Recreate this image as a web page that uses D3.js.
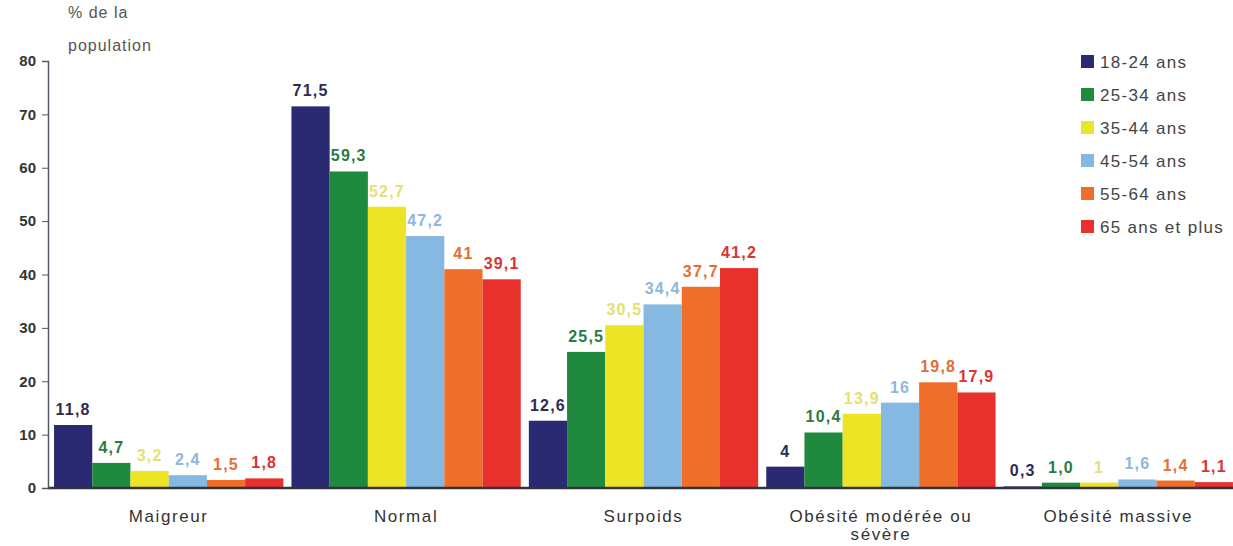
<!DOCTYPE html>
<html>
<head>
<meta charset="utf-8">
<script src="https://cdn.jsdelivr.net/npm/d3@7"></script>
<style>
  html, body { margin: 0; padding: 0; background: #fff; }
  svg { display: block; font-family: "Liberation Sans", Arial, sans-serif; }
</style>
</head>
<body>
<svg id="chart" width="1233" height="546"></svg>
<script>
// Corpulence categories (x groups)
const categories = ["Maigreur", "Normal", "Surpoids", "Obésité modérée ou sévère", "Obésité massive"];
const categoryLines = [["Maigreur"], ["Normal"], ["Surpoids"], ["Obésité modérée ou", "sévère"], ["Obésité massive"]];

// Age groups (series)
const ageGroups = ["18-24 ans", "25-34 ans", "35-44 ans", "45-54 ans", "55-64 ans", "65 ans et plus"];

// % de la population, per age group, in category order
const s18_24 = [11.8, 71.5, 12.6, 4, 0.3];
const s25_34 = [4.7, 59.3, 25.5, 10.4, 1.0];
const s35_44 = [3.2, 52.7, 30.5, 13.9, 1];
const s45_54 = [2.4, 47.2, 34.4, 16, 1.6];
const s55_64 = [1.5, 41, 37.7, 19.8, 1.4];
const s65plus = [1.8, 39.1, 41.2, 17.9, 1.1];
const seriesValues = [s18_24, s25_34, s35_44, s45_54, s55_64, s65plus];

// Printed value labels (French decimal comma)
const valueLabels = [
  ["11,8", "71,5", "12,6", "4", "0,3"],
  ["4,7", "59,3", "25,5", "10,4", "1,0"],
  ["3,2", "52,7", "30,5", "13,9", "1"],
  ["2,4", "47,2", "34,4", "16", "1,6"],
  ["1,5", "41", "37,7", "19,8", "1,4"],
  ["1,8", "39,1", "41,2", "17,9", "1,1"]
];

const yTicks = [0, 10, 20, 30, 40, 50, 60, 70, 80];

const barColors = ["#2a2a72", "#1f8a3e", "#ece424", "#86b9e2", "#ef6e2a", "#e8302c"];
const labelColors = ["#2c2c52", "#2b7a44", "#e6e070", "#8fb6dc", "#e07034", "#d83434"];

const svg = d3.select("#chart");

const y = d3.scaleLinear().domain([0, 80]).range([488, 61]);

const x0 = d3.scaleBand()
  .domain(categories)
  .range([50, 1237])
  .paddingInner(0.034)
  .paddingOuter(0.017);

const x1 = d3.scaleBand()
  .domain(ageGroups)
  .range([0, x0.bandwidth()])
  .padding(0);

// Bars and value labels
const groups = svg.append("g").selectAll("g")
  .data(categories)
  .join("g")
  .attr("transform", d => `translate(${x0(d)},0)`);

groups.each(function(cat, ci) {
  const g = d3.select(this);
  ageGroups.forEach((age, si) => {
    const v = seriesValues[si][ci];
    g.append("rect")
      .attr("x", x1(age))
      .attr("y", y(v))
      .attr("width", x1.bandwidth())
      .attr("height", y(0) - y(v))
      .attr("fill", barColors[si]);
  });
  ageGroups.forEach((age, si) => {
    const v = seriesValues[si][ci];
    g.append("text")
      .attr("x", x1(age) + x1.bandwidth() / 2)
      .attr("y", y(v) - 10)
      .attr("text-anchor", "middle")
      .attr("font-size", 16)
      .attr("font-weight", "bold")
      .attr("letter-spacing", 1.2)
      .attr("fill", labelColors[si])
      .text(valueLabels[si][ci]);
  });
});

// Baseline across the plot
svg.append("line")
  .attr("x1", 48).attr("x2", 1233)
  .attr("y1", y(0)).attr("y2", y(0))
  .attr("stroke", "#33333f").attr("stroke-width", 2.5);

// Y axis
const yAxis = d3.axisLeft(y).tickValues(yTicks).tickSize(6).tickPadding(6);
const ya = svg.append("g")
  .attr("transform", "translate(48,0)")
  .call(yAxis);
ya.select(".domain").attr("stroke", "#55556a").attr("stroke-width", 1.5);
ya.selectAll(".tick line").attr("stroke", "#55556a");
ya.selectAll(".tick text")
  .attr("font-size", 15)
  .attr("font-weight", "bold")
  .attr("fill", "#333")
  .attr("font-family", "'Liberation Sans', Arial, sans-serif");

// Y axis title
svg.append("text")
  .attr("x", 68).attr("y", 18)
  .attr("font-size", 16).attr("letter-spacing", 1).attr("fill", "#555")
  .text("% de la");
svg.append("text")
  .attr("x", 68).attr("y", 51)
  .attr("font-size", 16).attr("letter-spacing", 1).attr("fill", "#555")
  .text("population");

// Category labels
categories.forEach((cat, ci) => {
  const cx = x0(cat) + x0.bandwidth() / 2;
  const t = svg.append("text")
    .attr("x", cx)
    .attr("y", 522)
    .attr("text-anchor", "middle")
    .attr("font-size", 17)
    .attr("letter-spacing", 1.6)
    .attr("fill", "#333");
  categoryLines[ci].forEach((line, li) => {
    t.append("tspan")
      .attr("x", cx)
      .attr("dy", li === 0 ? 0 : 18)
      .text(line);
  });
});

// Legend
const legend = svg.append("g").attr("transform", "translate(1081,55)");
ageGroups.forEach((age, i) => {
  const row = legend.append("g").attr("transform", `translate(0,${i * 33})`);
  row.append("rect")
    .attr("x", 0).attr("y", 0)
    .attr("width", 13).attr("height", 13)
    .attr("fill", barColors[i]);
  row.append("text")
    .attr("x", 19).attr("y", 13)
    .attr("font-size", 17)
    .attr("letter-spacing", 1.3)
    .attr("fill", "#444")
    .text(age);
});
</script>
</body>
</html>
